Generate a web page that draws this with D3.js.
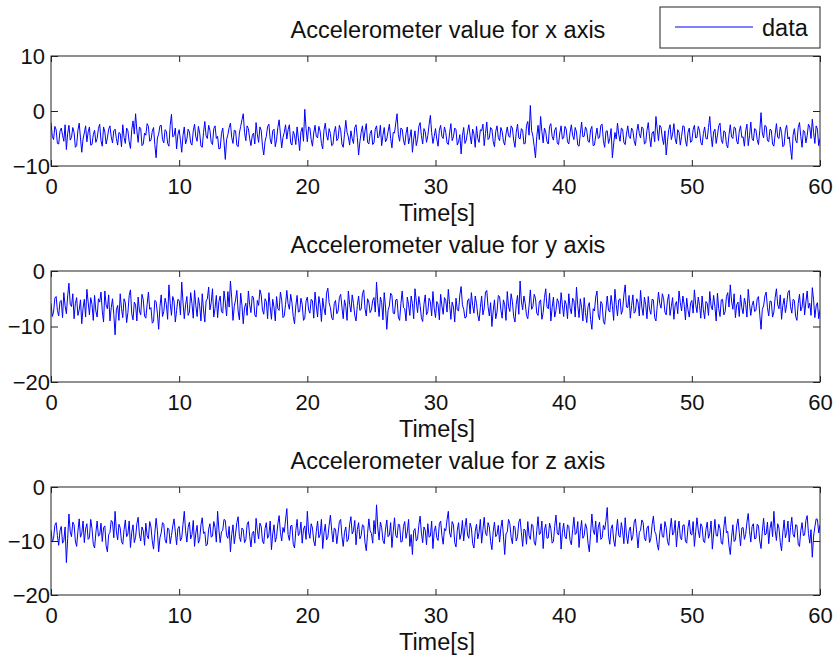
<!DOCTYPE html>
<html>
<head>
<meta charset="utf-8">
<script src="https://cdn.jsdelivr.net/npm/d3@7/dist/d3.min.js"></script>
<style>
  html, body { margin: 0; padding: 0; background: #fff; }
  svg { display: block; }
  text { font-family: "Liberation Sans", Arial, sans-serif; fill: #111; }
</style>
</head>
<body>
<svg id="chart" width="840" height="662"></svg>
<script>
// Sampling step of the accelerometer log (seconds)
const sampleStep = 0.1;

// X-axis acceleration readings, t = 0 .. 60 s (one row = 5 s)
const accX = [
  -2.1,-4.6,-5.2,-2.8,-3.4,-5.9,-6.0,-3.7,-3.1,-4.4,-5.5,-2.5,-7.0,-4.1,-2.6,-5.3,-4.8,-3.0,-3.9,-6.6,-6.3,-3.5,-2.2,-4.9,-7.5,-5.1,-4.0,-2.7,-5.6,-3.8,-2.9,-6.2,-6.1,-4.3,-3.5,-5.7,-5.0,-3.2,-2.4,-5.4,-6.4,-2.9,-3.8,-6.0,-4.9,-3.3,-2.7,-4.7,-5.8,-3.6,
  -3.3,-5.0,-6.2,-3.9,-4.1,-6.5,-2.5,-4.8,-5.9,-3.1,-3.6,-5.6,-6.8,-3.4,-1.8,-4.2,-0.5,-3.6,-5.7,-2.9,-3.2,-6.3,-6.0,-4.0,-4.4,-2.3,-2.8,-5.5,-5.3,-3.7,-3.0,-6.1,-8.5,-4.9,-4.2,-2.7,-2.6,-5.2,-5.8,-3.4,-3.7,-5.9,-6.4,-2.6,-0.6,-4.7,-4.5,-3.1,-6.9,-4.3,
  -3.4,-5.3,-7.5,-4.4,-2.9,-6.0,-5.1,-3.3,-3.8,-5.8,-6.2,-3.6,-2.4,-4.7,-5.5,-2.8,-4.0,-6.4,-6.6,-3.9,-1.9,-4.5,-5.0,-2.6,-3.5,-5.7,-6.1,-3.2,-2.7,-5.0,-4.6,-6.9,-6.8,-4.1,-3.1,-5.6,-8.8,-5.2,-4.3,-3.0,-2.2,-4.8,-5.9,-3.5,-3.6,-6.2,-6.5,-4.0,-2.8,-1.6,
  -0.5,-3.9,-5.4,-2.7,-3.2,-5.0,-6.3,-4.5,-4.0,-6.0,-2.1,-4.3,-5.7,-2.9,-3.5,-6.4,-8.0,-5.5,-4.6,-2.8,-2.4,-5.1,-6.0,-3.6,-3.3,-6.5,-5.2,-3.0,-1.6,-4.2,-6.7,-4.8,-3.9,-2.5,-5.1,-3.4,-2.5,-5.8,-6.2,-3.7,-4.4,-6.1,-2.9,-4.9,-7.2,-3.8,-3.0,-5.5,0.3,-3.2,
  -5.6,-2.9,-3.1,-5.2,-6.4,-4.0,-2.6,-4.6,-4.9,-2.8,-3.7,-5.9,-6.9,-3.5,-2.2,-4.4,-5.3,-3.2,-4.1,-6.3,-6.1,-3.8,-2.8,-5.4,-5.0,-2.6,-3.4,-6.0,-6.6,-4.2,-1.7,-3.9,-4.7,-6.2,-3.6,-5.0,-5.9,-3.0,-2.5,-4.8,-8.0,-5.6,-3.9,-2.7,-5.4,-3.6,-2.3,-5.7,-6.0,-4.1,
  -3.5,-6.1,-5.8,-3.3,-2.7,-4.9,-4.6,-2.6,-6.3,-4.4,-3.0,-5.6,-5.1,-3.7,-2.4,-5.0,-6.7,-3.9,-4.0,-2.2,-0.5,-4.3,-5.5,-3.1,-3.3,-5.3,-6.2,-4.1,-2.9,-6.0,-4.8,-3.4,-7.5,-5.1,-3.6,-6.3,-5.2,-2.8,-2.1,-4.5,-6.0,-3.2,-3.8,-5.7,-4.5,-2.5,-0.8,-3.9,-5.9,-4.6,
  -3.2,-5.1,-6.4,-3.5,-2.6,-4.6,-5.0,-2.9,-3.9,-5.8,-6.1,-4.0,-2.3,-5.4,-4.7,-3.1,-3.4,-6.2,-5.6,-4.3,-7.8,-4.5,-3.0,-5.9,-5.3,-3.8,-2.5,-4.4,-6.0,-3.3,-4.2,-6.6,-2.8,-5.0,-5.7,-3.4,-3.6,-2.4,-6.3,-4.1,-2.0,-5.2,-4.9,-3.0,-3.3,-5.5,-6.5,-3.7,-2.7,-4.8,
  -5.4,-3.0,-3.7,-5.5,-6.2,-4.2,-2.9,-4.5,-4.8,-2.7,-3.1,-5.3,-6.6,-3.9,-2.4,-4.9,-5.1,-3.2,-3.5,-6.0,-5.9,-2.6,-1.9,-4.4,1.0,-3.6,-4.6,-6.4,-8.5,-4.7,-2.6,-5.2,-1.0,-3.7,-5.8,-3.1,-3.8,-5.6,-6.0,-2.8,-2.3,-4.6,-5.3,-3.5,-3.0,-5.8,-6.1,-4.0,-2.7,-5.1,
  -4.9,-2.8,-3.3,-5.6,-6.0,-3.9,-2.5,-4.4,-5.2,-3.0,-3.8,-6.2,-6.4,-4.1,-2.0,-4.7,-4.6,-2.9,-3.5,-5.5,-5.7,-3.4,-2.8,-6.3,-6.2,-4.5,-3.1,-5.0,-4.8,-2.6,-2.4,-5.4,-6.6,-3.7,-3.6,-5.9,-5.0,-3.2,-8.5,-6.0,-3.9,-5.1,-2.2,-4.3,-5.5,-3.1,-3.3,-5.7,-6.1,-4.2,
  -2.7,-4.6,-5.0,-3.1,-3.6,-5.4,-6.3,-3.8,-2.4,-4.1,-4.9,-2.9,-3.2,-6.0,-5.8,-3.5,-2.1,-4.7,-6.5,-4.0,-3.7,-5.6,-1.0,-3.3,-5.4,-2.6,-3.0,-4.9,-6.1,-3.6,-8.0,-5.5,-3.4,-2.5,-5.2,-4.2,-2.3,-5.0,-6.0,-3.4,-3.9,-6.2,-4.6,-2.7,-2.8,-5.3,-6.4,-3.9,-3.1,-5.7,
  -5.5,-3.4,-2.6,-4.9,-4.8,-2.8,-3.5,-5.7,-6.2,-4.1,-2.9,-5.0,-5.1,-3.0,-1.0,-4.4,-6.5,-3.8,-3.3,-5.9,-4.4,-2.7,-2.2,-5.2,-5.9,-3.6,-3.8,-6.1,-6.7,-4.3,-2.5,-4.7,-5.0,-2.9,-3.1,-5.5,-6.0,-3.7,-2.7,-4.8,-4.7,-6.4,-3.6,-2.4,-6.3,-4.5,-2.0,-5.0,-5.4,-3.2,
  -3.4,-5.2,-6.1,-3.6,-0.3,-4.0,-4.9,-2.6,-2.8,-5.4,-5.6,-3.3,-3.5,-6.0,-6.4,-4.2,-2.3,-4.8,-5.0,-2.9,-3.9,-6.5,-6.2,-3.4,-2.6,-5.1,-4.7,-6.8,-8.8,-4.4,-3.2,-5.3,-5.8,-3.0,-2.1,-4.6,-6.6,-3.5,-3.7,-5.8,-4.5,-2.4,-2.9,-5.0,-1.5,-3.9,-5.9,-2.7,-3.3,-6.3,
  -5.0
];

// Y-axis acceleration readings, t = 0 .. 60 s (one row = 5 s)
const accY = [
  -5.8,-8.2,-7.4,-4.9,-4.6,-7.1,-8.1,-5.5,-5.3,-8.4,-3.9,-6.3,-7.7,-4.5,-2.2,-6.0,-6.4,-4.1,-8.6,-5.9,-4.8,-8.0,-7.0,-5.2,-9.5,-6.7,-5.1,-8.3,-3.3,-5.6,-7.9,-4.8,-6.0,-8.9,-4.4,-7.2,-8.3,-5.0,-5.6,-3.8,-7.2,-9.2,-3.6,-6.1,-6.8,-4.3,-9.0,-6.6,-5.0,-7.8,
  -11.5,-7.0,-6.2,-8.9,-4.1,-6.8,-8.4,-5.0,-5.7,-9.3,-7.5,-4.4,-3.4,-7.7,-8.8,-5.6,-6.1,-9.0,-4.7,-7.2,-7.9,-4.2,-5.2,-8.1,-8.5,-6.0,-3.8,-6.9,-6.6,-9.4,-9.1,-5.3,-5.5,-7.6,-10.5,-6.4,-4.3,-8.2,-7.3,-4.9,-6.0,-8.7,-2.5,-5.8,-8.0,-4.6,-5.4,-9.2,-7.1,-5.1,
  -5.3,-7.9,-2.0,-5.6,-8.6,-6.1,-4.6,-8.0,-7.4,-3.9,-5.9,-8.5,-3.5,-6.2,-8.2,-4.8,-6.3,-9.0,-4.1,-7.0,-9.2,-5.4,-5.0,-2.9,-7.0,-5.7,-3.2,-8.3,-6.7,-4.4,-8.4,-5.5,-4.5,-7.3,-7.6,-3.6,-5.6,-8.1,-3.7,-6.5,-1.8,-4.9,-8.9,-6.4,-5.2,-3.5,-7.2,-8.8,-4.0,-6.2,
  -9.5,-6.6,-5.8,-8.0,-3.6,-6.1,-7.5,-4.5,-4.8,-7.9,-8.3,-5.3,-6.2,-3.4,-4.3,-7.0,-7.8,-5.0,-5.5,-8.6,-3.9,-6.4,-8.7,-5.1,-6.5,-9.0,-4.6,-6.8,-7.1,-3.8,-5.2,-8.4,-8.1,-6.0,-3.5,-5.9,-6.9,-4.2,-5.7,-8.2,-9.5,-6.3,-4.4,-7.4,-7.3,-4.9,-6.0,-8.9,-8.5,-5.4,
  -4.7,-7.0,-7.6,-5.1,-5.4,-8.5,-3.8,-6.3,-8.3,-4.6,-6.1,-9.1,-4.9,-6.7,-7.9,-4.0,-3.1,-5.7,-6.6,-8.4,-8.8,-5.9,-5.3,-7.7,-7.2,-4.8,-4.2,-6.5,-8.6,-5.2,-6.4,-8.9,-3.6,-6.0,-7.4,-4.3,-5.8,-8.0,-9.0,-6.2,-4.5,-7.1,-6.9,-4.1,-3.4,-6.8,-8.1,-5.0,-5.6,-7.5,
  -7.0,-5.3,-4.8,-7.4,-2.0,-5.8,-8.2,-4.7,-5.7,-8.8,-3.9,-6.5,-10.5,-7.1,-6.3,-4.0,-4.4,-7.6,-7.7,-5.2,-5.1,-8.3,-8.9,-5.9,-3.6,-6.6,-6.8,-9.0,-4.7,-6.1,-8.0,-4.5,-5.9,-8.6,-3.2,-5.4,-7.5,-4.6,-6.2,-8.4,-9.1,-6.0,-4.3,-7.9,-7.3,-4.9,-5.5,-8.1,-3.7,-6.7,
  -8.4,-5.5,-6.0,-8.8,-4.2,-6.3,-7.8,-4.8,-5.3,-7.4,-3.3,-6.0,-8.7,-5.6,-6.5,-9.2,-4.9,-7.0,-7.2,-4.3,-2.8,-6.1,-6.9,-8.5,-8.3,-5.4,-5.0,-7.7,-3.9,-6.2,-7.6,-4.5,-5.8,-8.0,-9.0,-6.6,-4.5,-7.9,-6.7,-3.8,-3.5,-6.4,-8.1,-5.7,-10.0,-7.2,-5.2,-8.6,-7.4,-4.4,
  -4.6,-7.0,-8.5,-5.2,-6.1,-8.9,-3.7,-6.4,-7.3,-4.1,-5.5,-8.2,-9.2,-6.0,-4.4,-7.8,-1.8,-5.4,-7.0,-4.5,-5.8,-8.0,-8.6,-6.3,-3.4,-6.9,-6.4,-4.2,-4.9,-7.6,-8.0,-5.6,-5.2,-8.7,-7.5,-4.8,-3.2,-6.5,-6.8,-4.0,-9.0,-6.6,-4.7,-8.3,-7.1,-5.0,-5.6,-7.7,-3.9,-6.1,
  -8.2,-5.3,-6.0,-8.6,-4.1,-6.7,-7.7,-4.9,-5.4,-8.3,-2.9,-6.2,-8.4,-5.0,-6.6,-9.0,-4.8,-7.5,-9.3,-6.4,-5.7,-8.7,-10.5,-6.8,-7.2,-4.7,-3.6,-7.9,-8.8,-5.5,-5.9,-9.1,-9.6,-6.9,-4.5,-7.1,-7.4,-4.4,-6.2,-8.9,-3.3,-6.0,-8.1,-5.2,-5.0,-7.8,-7.0,-4.3,-2.5,-6.5,
  -6.6,-4.4,-8.5,-6.2,-4.3,-7.6,-7.3,-5.0,-5.6,-8.1,-3.5,-6.5,-8.0,-4.7,-6.1,-8.6,-4.6,-6.9,-7.8,-5.1,-5.2,-8.4,-9.0,-6.3,-3.8,-5.9,-6.7,-4.1,-5.0,-7.4,-7.9,-5.3,-4.2,-8.0,-6.4,-4.8,-8.7,-6.1,-5.5,-7.7,-3.6,-5.7,-7.2,-4.5,-6.0,-8.8,-4.9,-7.0,-8.3,-5.8,
  -5.3,-7.6,-3.4,-6.0,-7.5,-4.7,-6.2,-8.5,-4.5,-7.0,-8.6,-5.5,-5.8,-8.0,-3.7,-6.3,-7.0,-4.4,-6.4,-9.0,-4.0,-6.8,-8.2,-5.2,-5.1,-7.9,-7.3,-4.6,-3.9,-6.5,-2.5,-5.4,-6.9,-4.1,-8.4,-6.1,-5.6,-8.2,-4.3,-6.6,-7.7,-4.9,-6.0,-8.3,-3.3,-5.9,-8.0,-6.2,-5.4,-7.3,
  -7.1,-5.0,-4.6,-7.8,-10.5,-6.9,-6.3,-4.5,-3.8,-6.6,-8.1,-5.4,-5.5,-8.3,-7.4,-4.8,-3.2,-6.1,-6.8,-4.3,-8.7,-6.2,-4.9,-7.5,-6.0,-3.9,-3.5,-6.4,-7.6,-5.1,-5.3,-8.2,-8.9,-5.9,-4.2,-7.2,-6.5,-4.0,-7.9,-5.6,-3.6,-6.7,-5.8,-8.0,-3.0,-5.2,-8.4,-6.3,-5.7,-8.6,
  -7.0
];

// Z-axis acceleration readings, t = 0 .. 60 s (one row = 5 s)
const accZ = [
  -8.0,-10.2,-9.5,-7.1,-6.6,-9.0,-10.8,-8.1,-7.3,-10.4,-9.9,-7.4,-14.0,-9.6,-5.0,-8.3,-9.2,-6.5,-7.0,-10.0,-11.0,-8.2,-5.9,-9.3,-8.6,-6.3,-10.3,-7.8,-6.8,-9.7,-9.4,-6.0,-7.7,-10.6,-11.3,-8.5,-6.3,-9.1,-8.9,-6.7,-10.1,-7.5,-7.2,-10.9,-12.0,-8.8,-8.4,-6.2,-6.5,-9.4,
  -4.5,-8.2,-9.8,-6.9,-7.6,-10.1,-10.6,-7.9,-6.1,-9.2,-8.7,-6.3,-11.2,-8.4,-7.0,-10.3,-9.3,-6.8,-5.6,-8.9,-10.0,-7.4,-8.1,-10.8,-6.7,-9.0,-9.6,-6.4,-7.4,-10.0,-11.5,-8.6,-5.8,-8.0,-12.0,-9.4,-8.5,-6.6,-6.9,-9.8,-10.4,-7.6,-7.8,-10.5,-9.0,-7.2,-5.9,-8.3,-10.7,-7.7,
  -7.3,-10.0,-9.4,-6.9,-4.5,-8.1,-10.2,-7.5,-6.5,-9.6,-8.8,-6.2,-11.0,-8.5,-7.1,-10.4,-9.7,-7.0,-5.7,-8.6,-8.3,-10.9,-10.6,-7.8,-6.8,-9.3,-9.1,-6.4,-7.5,-10.2,-4.5,-7.9,-10.3,-8.3,-8.0,-6.0,-6.2,-9.0,-9.5,-7.3,-12.0,-8.8,-7.0,-10.5,-8.7,-6.6,-5.5,-9.2,-10.1,-7.6,
  -7.9,-10.3,-9.8,-7.0,-6.4,-9.1,-11.1,-8.6,-8.2,-10.4,-5.8,-8.0,-9.6,-6.7,-7.3,-10.0,-10.5,-7.7,-6.6,-9.5,-8.9,-6.3,-11.6,-8.7,-7.0,-10.2,-9.2,-6.8,-5.3,-8.4,-10.0,-7.5,-8.4,-6.1,-4.0,-8.8,-9.9,-7.2,-7.1,-10.6,-11.3,-8.1,-6.0,-9.0,-8.6,-6.5,-10.4,-7.8,-7.2,-9.7,
  -4.5,-8.3,-9.5,-6.8,-7.6,-10.0,-10.9,-8.2,-6.3,-9.4,-8.8,-6.0,-11.4,-8.5,-6.9,-9.8,-9.3,-7.1,-5.2,-8.0,-10.2,-7.6,-7.8,-10.5,-8.5,-6.4,-6.0,-9.1,-11.0,-8.4,-7.4,-10.1,-9.7,-6.9,-5.5,-8.7,-8.1,-6.2,-10.7,-7.9,-6.6,-9.6,-9.0,-7.0,-7.2,-10.3,-11.8,-8.6,-5.9,-8.1,
  -8.6,-10.4,-6.2,-8.7,-3.3,-7.6,-9.8,-6.5,-7.5,-9.9,-10.5,-7.8,-6.1,-9.2,-8.9,-6.6,-11.2,-8.3,-5.7,-9.0,-9.4,-6.9,-7.0,-10.2,-10.1,-7.3,-6.4,-9.5,-8.3,-6.0,-11.0,-8.8,-12.5,-8.1,-7.7,-10.0,-9.6,-7.1,-5.4,-8.5,-10.3,-7.4,-8.0,-10.7,-6.8,-9.3,-9.1,-6.3,-11.4,-8.2,
  -7.2,-9.4,-9.9,-6.8,-6.3,-9.0,-10.6,-7.7,-8.1,-6.1,-4.5,-8.5,-9.3,-6.4,-7.0,-10.3,-11.1,-8.0,-6.6,-9.7,-8.7,-6.2,-10.0,-7.5,-5.8,-8.9,-9.5,-6.7,-7.6,-10.5,-11.3,-8.2,-6.9,-9.6,-8.4,-6.0,-10.4,-7.9,-5.6,-8.6,-9.0,-6.6,-7.4,-10.1,-11.6,-8.3,-6.5,-9.2,-8.8,-7.1,
  -10.2,-7.6,-6.1,-9.1,-12.5,-8.7,-8.3,-6.0,-6.8,-9.3,-10.5,-7.2,-7.5,-10.0,-9.2,-6.5,-5.9,-8.4,-11.0,-7.8,-8.0,-10.6,-6.4,-9.0,-9.7,-6.9,-7.1,-10.2,-10.8,-8.1,-5.5,-8.8,-8.6,-6.3,-11.4,-8.0,-6.9,-9.5,-9.4,-6.7,-7.7,-10.4,-10.1,-7.3,-5.2,-8.5,-8.9,-6.6,-11.5,-8.4,
  -6.7,-9.2,-9.6,-7.0,-7.3,-9.9,-10.7,-7.9,-5.6,-8.8,-8.5,-6.4,-11.2,-8.2,-6.2,-9.5,-9.0,-6.8,-7.6,-10.4,-12.0,-8.6,-5.0,-8.0,-8.8,-6.3,-10.3,-7.4,-6.5,-9.7,-9.4,-7.1,-7.9,-6.2,-3.8,-9.1,-10.6,-7.7,-7.0,-9.8,-11.0,-8.3,-6.0,-9.0,-9.3,-6.6,-8.1,-10.5,-5.7,-8.9,
  -10.5,-8.1,-7.4,-9.9,-9.1,-6.5,-5.9,-8.6,-11.3,-8.4,-8.0,-6.1,-6.6,-9.4,-10.0,-7.6,-7.2,-10.3,-9.6,-7.0,-5.4,-8.2,-8.7,-10.6,-11.7,-8.5,-6.8,-9.2,-9.3,-6.4,-7.5,-10.1,-10.8,-7.8,-5.8,-8.9,-8.4,-6.2,-11.1,-8.0,-6.3,-9.3,-9.8,-7.1,-7.0,-10.0,-10.4,-7.5,-6.1,-8.7,
  -8.9,-6.4,-11.0,-8.3,-5.7,-8.0,-9.4,-6.8,-7.3,-10.0,-10.3,-7.9,-6.5,-9.5,-8.6,-6.3,-11.5,-8.7,-6.0,-9.0,-9.1,-6.9,-7.7,-10.4,-10.6,-7.4,-5.5,-8.5,-8.2,-10.9,-12.5,-9.3,-7.0,-10.1,-9.8,-7.2,-5.9,-8.4,-10.9,-7.6,-7.5,-9.7,-8.8,-6.5,-4.9,-8.1,-10.2,-7.3,-6.8,-9.6,
  -9.5,-6.9,-7.2,-10.0,-11.4,-8.2,-5.8,-8.9,-8.7,-6.5,-10.5,-7.7,-6.4,-9.2,-4.5,-8.0,-9.9,-6.8,-7.6,-10.3,-11.8,-8.4,-6.1,-9.4,-8.4,-6.3,-10.2,-7.5,-5.6,-8.8,-9.3,-7.0,-7.1,-10.6,-11.0,-8.1,-6.6,-9.0,-8.9,-6.2,-5.3,-8.6,-10.4,-7.9,-13.0,-9.1,-7.4,-5.9,-6.0,-8.5,
  -7.0
];

// Panel titles, axis label, tick values
const panelTitles = [
  "Accelerometer value for x axis",
  "Accelerometer value for y axis",
  "Accelerometer value for z axis"
];
const xLabel = "Time[s]";
const legendLabel = "data";
const timeTicks = [0, 10, 20, 30, 40, 50, 60];
const timeDomain = [0, 60];
const yDomains = [[-10, 10], [-20, 0], [-20, 0]];
const yTicks = [[-10, 0, 10], [-20, -10, 0], [-20, -10, 0]];

const seriesList = [accX, accY, accZ];

// Layout of the three stacked axes
const plotLeft = 51, plotRight = 820;
const panels = [
  { top: 56, bottom: 166 },
  { top: 271, bottom: 382 },
  { top: 487, bottom: 595 }
];

const svg = d3.select("#chart");
const tickFont = 22;
const labelFont = 23.5;
const axisColor = "#222";
const lineColor = "#0000ff";

const x = d3.scaleLinear().domain(timeDomain).range([plotLeft, plotRight]);
const minusFmt = d => (d < 0 ? "\u2212" + Math.abs(d) : String(d));

panels.forEach((p, i) => {
  const y = d3.scaleLinear().domain(yDomains[i]).range([p.bottom, p.top]);
  const g = svg.append("g");

  // clip data to the axes box
  const clipId = "clip" + i;
  svg.append("clipPath").attr("id", clipId)
    .append("rect")
    .attr("x", plotLeft).attr("y", p.top)
    .attr("width", plotRight - plotLeft).attr("height", p.bottom - p.top);

  const data = seriesList[i].map((v, k) => ({ t: k * sampleStep, v }));
  const line = d3.line().x(d => x(d.t)).y(d => y(d.v));

  g.append("path")
    .datum(data)
    .attr("clip-path", `url(#${clipId})`)
    .attr("fill", "none")
    .attr("stroke", lineColor)
    .attr("stroke-width", 1)
    .attr("d", line);

  // bottom axis with inward ticks and labels
  const bottomAxis = d3.axisBottom(x).tickValues(timeTicks).tickSizeInner(-6).tickSizeOuter(0).tickPadding(12).tickFormat(d3.format("d"));
  const gb = g.append("g").attr("transform", `translate(0,${p.bottom})`).call(bottomAxis);

  // top axis: ticks only
  const topAxis = d3.axisTop(x).tickValues(timeTicks).tickSizeInner(-6).tickSizeOuter(0).tickFormat("");
  const gt = g.append("g").attr("transform", `translate(0,${p.top})`).call(topAxis);

  // left axis with labels
  const leftAxis = d3.axisLeft(y).tickValues(yTicks[i]).tickSizeInner(-7).tickSizeOuter(0).tickPadding(6).tickFormat(minusFmt);
  const gl = g.append("g").attr("transform", `translate(${plotLeft},0)`).call(leftAxis);

  // right axis: ticks only
  const rightAxis = d3.axisRight(y).tickValues(yTicks[i]).tickSizeInner(-7).tickSizeOuter(0).tickFormat("");
  const gr = g.append("g").attr("transform", `translate(${plotRight},0)`).call(rightAxis);

  [gb, gt, gl, gr].forEach(a => {
    a.select(".domain").remove();
    a.selectAll(".tick line").attr("stroke", axisColor);
    a.selectAll("text").attr("font-size", tickFont).attr("font-family", "Liberation Sans, Arial, sans-serif").attr("fill", "#111");
  });

  // the lowest y label sits against the corner of the box
  gl.selectAll(".tick").filter(d => d === yTicks[i][0]).select("text").attr("x", -1);

  // axes box
  g.append("rect")
    .attr("x", plotLeft).attr("y", p.top)
    .attr("width", plotRight - plotLeft).attr("height", p.bottom - p.top)
    .attr("fill", "none").attr("stroke", axisColor).attr("stroke-width", 1);

  // panel title
  g.append("text")
    .attr("x", 448).attr("y", p.top - 18)
    .attr("text-anchor", "middle")
    .attr("font-size", labelFont)
    .text(panelTitles[i]);

  // x-axis label
  g.append("text")
    .attr("x", 437).attr("y", p.bottom + 55)
    .attr("text-anchor", "middle")
    .attr("font-size", labelFont)
    .text(xLabel);
});

// legend box in the top-right corner
const leg = svg.append("g");
leg.append("rect")
  .attr("x", 660).attr("y", 7).attr("width", 160).attr("height", 41)
  .attr("fill", "#fff").attr("stroke", axisColor).attr("stroke-width", 1);
leg.append("line")
  .attr("x1", 675).attr("x2", 753).attr("y1", 27).attr("y2", 27)
  .attr("stroke", lineColor).attr("stroke-width", 1);
leg.append("text")
  .attr("x", 762).attr("y", 36)
  .attr("font-size", labelFont)
  .text(legendLabel);
</script>
</body>
</html>
